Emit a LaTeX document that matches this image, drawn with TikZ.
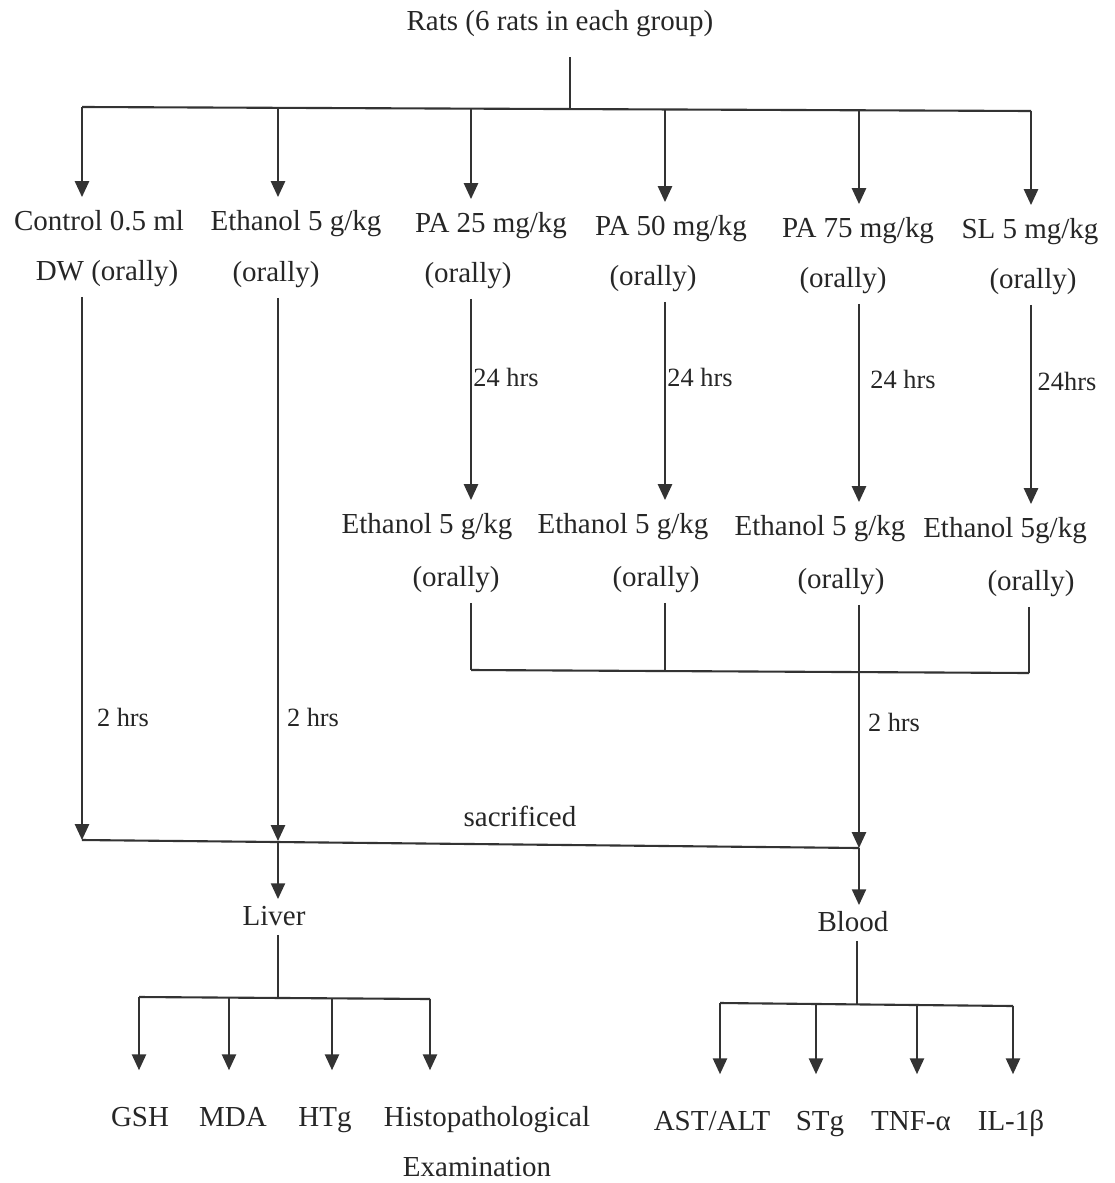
\documentclass[tikz,border=0pt]{standalone}
\usepackage{fontspec}
\setmainfont{Liberation Serif}
\usetikzlibrary{positioning, arrows.meta}

\begin{document}
\begin{tikzpicture}[
  x=0.02cm, y=-0.02cm,
  % Text Styles
  lbl/.style={text=black!85, font=\fontsize{16.5}{20}\selectfont, inner sep=6pt, text height=13pt, text depth=3pt},
  organ/.style={lbl, inner sep=2pt},
  hrs/.style={text=black!85, font=\fontsize{15}{18}\selectfont, inner sep=2pt},
  % Line Styles
  link/.style={line width=1.2pt, draw=black!80},
  arr/.style={link, -{Triangle[length=9pt, width=8pt]}},
  itemarr/.style={arr, shorten >=13pt}
]
\useasboundingbox (0,0) rectangle (1115,1183);

\node[lbl] (rats) at (560,22) {Rats (6 rats in each group)};

% Groups
\node[lbl] (ctrl) at (99,222) {Control 0.5 ml};
\node[lbl] (ctrlo) at (107,272) {DW (orally)};
\node[lbl] (eth) at (296,222) {Ethanol 5 g/kg};
\node[lbl] (etho) at (276,273) {(orally)};
\node[lbl] (pa25) at (491,224) {PA 25 mg/kg};
\node[lbl] (pa25o) at (468,274) {(orally)};
\node[lbl] (pa50) at (671,227) {PA 50 mg/kg};
\node[lbl] (pa50o) at (653,277) {(orally)};
\node[lbl] (pa75) at (858,229) {PA 75 mg/kg};
\node[lbl] (pa75o) at (843,279) {(orally)};
\node[lbl] (sl) at (1030,230) {SL 5 mg/kg};
\node[lbl] (slo) at (1033,280) {(orally)};

% Ethanol after 24 hrs
\node[lbl] (e1) at (427,525) {Ethanol 5 g/kg};
\node[lbl] (e1o) at (456,578) {(orally)};
\node[lbl] (e2) at (623,525) {Ethanol 5 g/kg};
\node[lbl] (e2o) at (656,578) {(orally)};
\node[lbl] (e3) at (820,527) {Ethanol 5 g/kg};
\node[lbl] (e3o) at (841,580) {(orally)};
\node[lbl] (e4) at (1005,529) {Ethanol 5g/kg};
\node[lbl] (e4o) at (1031,582) {(orally)};

% Time labels
\node[hrs] (t3) at (506,377) {24 hrs};
\node[hrs] (t4) at (700,377) {24 hrs};
\node[hrs] (t5) at (903,379) {24 hrs};
\node[hrs] (t6) at (1067,381) {24hrs};
\node[hrs] (h1) at (123,717) {2 hrs};
\node[hrs] (h2) at (313,717) {2 hrs};
\node[hrs] (h5) at (894,722) {2 hrs};
\node[lbl] (sac) at (520,818) {sacrificed};

% Organs and tests
\node[organ] (liver) at (274,917) {Liver};
\node[organ] (blood) at (853,923) {Blood};
\node[lbl] (gsh) at (140,1118) {GSH};
\node[lbl] (mda) at (233,1118) {MDA};
\node[lbl] (htg) at (325,1118) {HTg};
\node[lbl] (hist) at (487,1118) {Histopathological};
\node[lbl, below=0pt of hist, xshift=-0.2cm] (exam) {Examination};
\node[lbl] (ast) at (712,1122) {AST/ALT};
\node[lbl] (stg) at (820,1122) {STg};
\node[lbl] (tnf) at (911,1122) {TNF-α};
\node[lbl] (il) at (1011,1122) {IL-1β};

% Junction points
\coordinate (top) at (570,108);
\coordinate (c1) at (82,107);
\coordinate (c2) at (278,107);
\coordinate (c3) at (471,108);
\coordinate (c4) at (665,109);
\coordinate (c5) at (859,110);
\coordinate (c6) at (1031,111);
\coordinate (j3) at (471,670);
\coordinate (j4) at (665,671);
\coordinate (j5) at (859,672);
\coordinate (j6) at (1029,673);
\coordinate (s1) at (82,840);
\coordinate (s2) at (278,841);
\coordinate (s5) at (859,848);
\coordinate (lj) at (278,998);
\coordinate (l1) at (139,997);
\coordinate (l2) at (229,998);
\coordinate (l3) at (332,998);
\coordinate (l4) at (430,999);
\coordinate (bj) at (857,1004);
\coordinate (b1) at (720,1003);
\coordinate (b2) at (816,1004);
\coordinate (b3) at (917,1005);
\coordinate (b4) at (1013,1006);

% Split into groups
\draw[link, shorten <=6pt] (rats.south -| top) -- (top);
\draw[link] (c1) -- (c6);
\draw[arr] (c1) -- (ctrl.north -| c1);
\draw[arr] (c2) -- (eth.north -| c2);
\draw[arr] (c3) -- (pa25.north -| c3);
\draw[arr] (c4) -- (pa50.north -| c4);
\draw[arr] (c5) -- (pa75.north -| c5);
\draw[arr] (c6) -- (sl.north -| c6);

% Pretreatment then ethanol
\draw[arr] (pa25o.south -| c3) -- (e1.north -| c3);
\draw[arr] (pa50o.south -| c4) -- (e2.north -| c4);
\draw[arr] (pa75o.south -| c5) -- (e3.north -| c5);
\draw[arr] (slo.south -| c6) -- (e4.north -| c6);
\draw[link] (e1o.south -| j3) -- (j3);
\draw[link] (e2o.south -| j4) -- (j4);
\draw[link] (e3o.south -| j5) -- (j5);
\draw[link] (e4o.south -| j6) -- (j6);
\draw[link] (j3) -- (j6);

% Sacrifice
\draw[arr] (ctrlo.south -| s1) -- (s1);
\draw[arr] (etho.south -| s2) -- (s2);
\draw[arr] (j5) -- (s5);
\draw[link] (s1) -- (s5);
\draw[arr] (s2) -- (liver.north -| s2);
\draw[arr] (s5) -- (blood.north -| s5);

% Liver tests
\draw[link] (liver.south -| lj) -- (lj);
\draw[link] (l1) -- (l4);
\draw[itemarr] (l1) -- (gsh.north -| l1);
\draw[itemarr] (l2) -- (mda.north -| l2);
\draw[itemarr] (l3) -- (htg.north -| l3);
\draw[itemarr] (l4) -- (hist.north -| l4);

% Blood tests
\draw[link] (blood.south -| bj) -- (bj);
\draw[link] (b1) -- (b4);
\draw[itemarr] (b1) -- (ast.north -| b1);
\draw[itemarr] (b2) -- (stg.north -| b2);
\draw[itemarr] (b3) -- (tnf.north -| b3);
\draw[itemarr] (b4) -- (il.north -| b4);

\end{tikzpicture}
\end{document}
